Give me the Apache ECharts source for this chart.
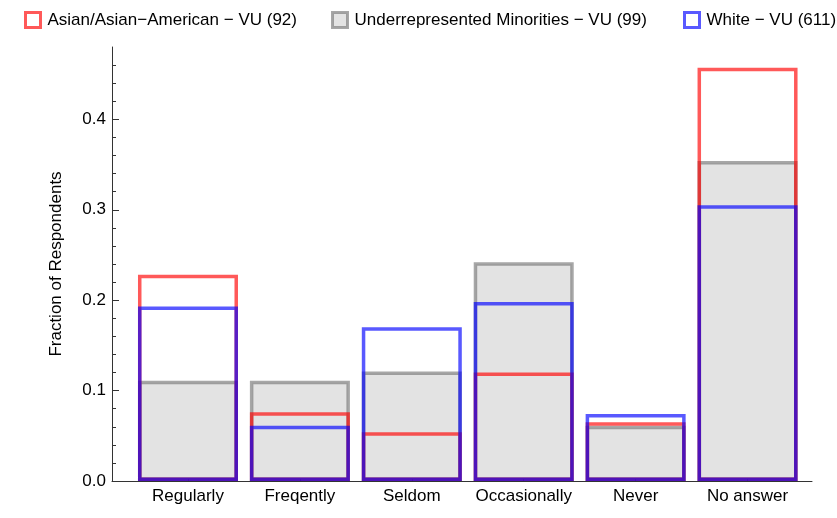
<!DOCTYPE html>
<html>
<head>
<meta charset="utf-8">
<script src="https://cdn.jsdelivr.net/npm/echarts@6/dist/echarts.min.js"></script>
<style>
  html, body { margin: 0; padding: 0; background: #fff; }
  #chart { width: 837px; height: 518px; }
</style>
</head>
<body>
<div id="chart"></div>
<script>
// categories and fractions
const categories = ['Regularly', 'Freqently', 'Seldom', 'Occasionally', 'Never', 'No answer'];
const asianValues = [0.228, 0.076, 0.054, 0.120, 0.065, 0.457];
const urmValues = [0.111, 0.111, 0.121, 0.242, 0.061, 0.354];
const whiteValues = [0.193, 0.061, 0.170, 0.198, 0.074, 0.305];
const seriesNames = [
  'Asian/Asian\u2212American \u2212 VU (92)',
  'Underrepresented Minorities \u2212 VU (99)',
  'White \u2212 VU (611)'
];
const yTicks = [0, 0.1, 0.2, 0.3, 0.4];

const myChart = echarts.init(document.getElementById('chart'));

const font = 'Liberation Sans, Arial, sans-serif';
const red = 'rgba(255,0,0,0.65)';
const gray = 'rgba(120,120,120,0.65)';
const blue = 'rgba(0,0,255,0.65)';

function toPairs(arr) {
  return arr.map(function (v, i) { return [i + 1, v]; });
}

function legendAt(name, left, fill, border) {
  return {
    left: left,
    top: 6,
    itemWidth: 15,
    itemHeight: 15,
    itemGap: 0,
    icon: 'rect',
    selectedMode: false,
    textStyle: { fontFamily: font, fontSize: 17, color: '#000', padding: [0, 0, 0, 2] },
    data: [{ name: name, itemStyle: { color: fill, borderColor: border, borderWidth: 3 } }]
  };
}

const option = {
  backgroundColor: '#fff',
  animation: false,
  legend: [
    legendAt(seriesNames[0], 19, '#fff', red),
    legendAt(seriesNames[1], 326, '#e3e3e3', gray),
    legendAt(seriesNames[2], 678, '#fff', blue)
  ],
  grid: { left: 112, right: 25, top: 47, bottom: 37 },
  xAxis: {
    type: 'value',
    min: 0.321,
    max: 6.576,
    splitLine: { show: false },
    axisLine: { lineStyle: { color: '#333', width: 1 } },
    axisTick: { inside: true, length: 4, customValues: [1, 2, 3, 4, 5, 6], lineStyle: { color: '#333' } },
    axisLabel: {
      customValues: [1, 2, 3, 4, 5, 6],
      fontFamily: font, fontSize: 17, color: '#000', margin: 7,
      formatter: function (v) { return categories[Math.round(v) - 1] || ''; }
    }
  },
  yAxis: {
    type: 'value',
    min: 0,
    max: 0.48,
    name: 'Fraction of Respondents',
    nameLocation: 'middle',
    nameGap: 47,
    nameTextStyle: { fontFamily: font, fontSize: 17, color: '#000' },
    splitLine: { show: false },
    axisLine: { show: true, lineStyle: { color: '#333', width: 1 } },
    axisTick: { inside: true, length: 7, customValues: yTicks, lineStyle: { color: '#333' } },
    minorTick: { show: true, splitNumber: 5, length: 4, lineStyle: { color: '#333' } },
    axisLabel: {
      customValues: yTicks,
      fontFamily: font, fontSize: 17, color: '#000', margin: 6,
      formatter: function (v) { return v.toFixed(1); }
    }
  },
  series: [
    {
      name: seriesNames[1],
      type: 'bar',
      barWidth: 100,
      barGap: '-100%',
      data: toPairs(urmValues),
      itemStyle: { color: '#e3e3e3', borderColor: gray, borderWidth: 3.5 }
    },
    {
      name: seriesNames[0],
      type: 'bar',
      barWidth: 100,
      barGap: '-100%',
      data: toPairs(asianValues),
      itemStyle: { color: 'rgba(0,0,0,0)', borderColor: red, borderWidth: 3.5 }
    },
    {
      name: seriesNames[2],
      type: 'bar',
      barWidth: 100,
      barGap: '-100%',
      data: toPairs(whiteValues),
      itemStyle: { color: 'rgba(0,0,0,0)', borderColor: blue, borderWidth: 3.5 }
    }
  ]
};

myChart.setOption(option);
</script>
</body>
</html>
